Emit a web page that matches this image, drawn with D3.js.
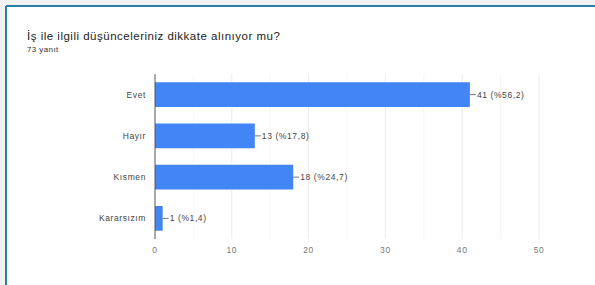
<!DOCTYPE html>
<html>
<head>
<meta charset="UTF-8">
<title>is_ile_ilgili</title>
<style type="text/css">
	body { margin: 0; background: #f2f2f2; }
	text { font-family: "Liberation Sans", Arial, sans-serif; }
	.cat, .tick-label, .amount { font-size: 8.5px; fill: #444; letter-spacing: 0.6px; }
	.tick-label { fill: #777; }
</style>
<script type="text/javascript" src="https://cdn.jsdelivr.net/npm/d3@7/dist/d3.min.js" charset="utf-8"></script>
</head>
<body>
<div id="div_main"></div>
<script type="text/javascript">

	var categories = ["Evet", "Hayır", "Kısmen", "Kararsızım"];
	var amounts = [41, 13, 18, 1];
	var percents = ["56,2", "17,8", "24,7", "1,4"];
	var ticks = [0, 10, 20, 30, 40, 50];
	var minorTicks = [5, 15, 25, 35, 45];

	var svg_w = 595, svg_h = 285;

	var svg = d3.select("#div_main")
				.append("svg")
					.attr("width", svg_w)
					.attr("height", svg_h);

	// card
	svg.append("rect")
		.attr("x", 7).attr("y", 7)
		.attr("width", svg_w).attr("height", svg_h)
		.attr("fill", "#fff");
	svg.append("line")
		.attr("x1", 6).attr("x2", 6).attr("y1", 6).attr("y2", svg_h)
		.attr("stroke", "#2a7fa6").attr("stroke-width", 2);
	svg.append("line")
		.attr("x1", 6).attr("x2", svg_w).attr("y1", 6).attr("y2", 6)
		.attr("stroke", "#2a7fa6").attr("stroke-width", 2);

	svg.append("text")
		.attr("x", 27).attr("y", 40)
		.attr("fill", "#222")
		.style("font-size", "11.5px")
		.style("letter-spacing", "0.5px")
		.text("İş ile ilgili düşünceleriniz dikkate alınıyor mu?");
	svg.append("text")
		.attr("x", 27).attr("y", 52)
		.attr("fill", "#333")
		.style("font-size", "8px")
		.style("letter-spacing", "0.4px")
		.text("73 yanıt");

	var scaleX = d3.scaleLinear()
					.domain([0, 50])
					.range([155, 539]);

	var scaleY = d3.scaleBand()
					.domain(categories)
					.range([74, 239])
					.paddingInner(0.4)
					.paddingOuter(0.2);

	// grid
	svg.selectAll("line.minor")
		.data(minorTicks)
		.enter()
		.append("line")
			.attr("class", "minor")
			.attr("x1", function (d) { return scaleX(d); })
			.attr("x2", function (d) { return scaleX(d); })
			.attr("y1", 74).attr("y2", 239)
			.attr("stroke", "#f6f6f6");

	svg.selectAll("line.grid")
		.data(ticks.slice(1))
		.enter()
		.append("line")
			.attr("class", "grid")
			.attr("x1", function (d) { return scaleX(d); })
			.attr("x2", function (d) { return scaleX(d); })
			.attr("y1", 74).attr("y2", 239)
			.attr("stroke", "#ececec");

	svg.selectAll("text.tick-label")
		.data(ticks)
		.enter()
		.append("text")
			.attr("class", "tick-label")
			.attr("x", function (d) { return scaleX(d); })
			.attr("y", 253)
			.attr("text-anchor", "middle")
			.text(function (d) { return d; });

	// bars
	svg.selectAll("rect.bar")
		.data(amounts)
		.enter()
		.append("rect")
			.attr("class", "bar")
			.attr("x", scaleX(0))
			.attr("y", function (d, i) { return scaleY(categories[i]); })
			.attr("width", function (d) { return scaleX(d) - scaleX(0); })
			.attr("height", scaleY.bandwidth())
			.attr("fill", "#4285f4");

	// axis line
	svg.append("line")
		.attr("x1", scaleX(0)).attr("x2", scaleX(0))
		.attr("y1", 74).attr("y2", 239)
		.attr("stroke", "#555");

	svg.selectAll("text.cat")
		.data(categories)
		.enter()
		.append("text")
			.attr("class", "cat")
			.attr("x", 146)
			.attr("y", function (d) { return scaleY(d) + scaleY.bandwidth() / 2 + 3; })
			.attr("text-anchor", "end")
			.text(function (d) { return d; });

	// value labels
	svg.selectAll("line.lead")
		.data(amounts)
		.enter()
		.append("line")
			.attr("class", "lead")
			.attr("x1", function (d) { return scaleX(d); })
			.attr("x2", function (d) { return scaleX(d) + 6; })
			.attr("y1", function (d, i) { return scaleY(categories[i]) + scaleY.bandwidth() / 2; })
			.attr("y2", function (d, i) { return scaleY(categories[i]) + scaleY.bandwidth() / 2; })
			.attr("stroke", "#777");

	svg.selectAll("text.amount")
		.data(amounts)
		.enter()
		.append("text")
			.attr("class", "amount")
			.attr("x", function (d) { return scaleX(d) + 7; })
			.attr("y", function (d, i) { return scaleY(categories[i]) + scaleY.bandwidth() / 2 + 3; })
			.text(function (d, i) { return d + " (%" + percents[i] + ")"; });

</script>
</body>
</html>
